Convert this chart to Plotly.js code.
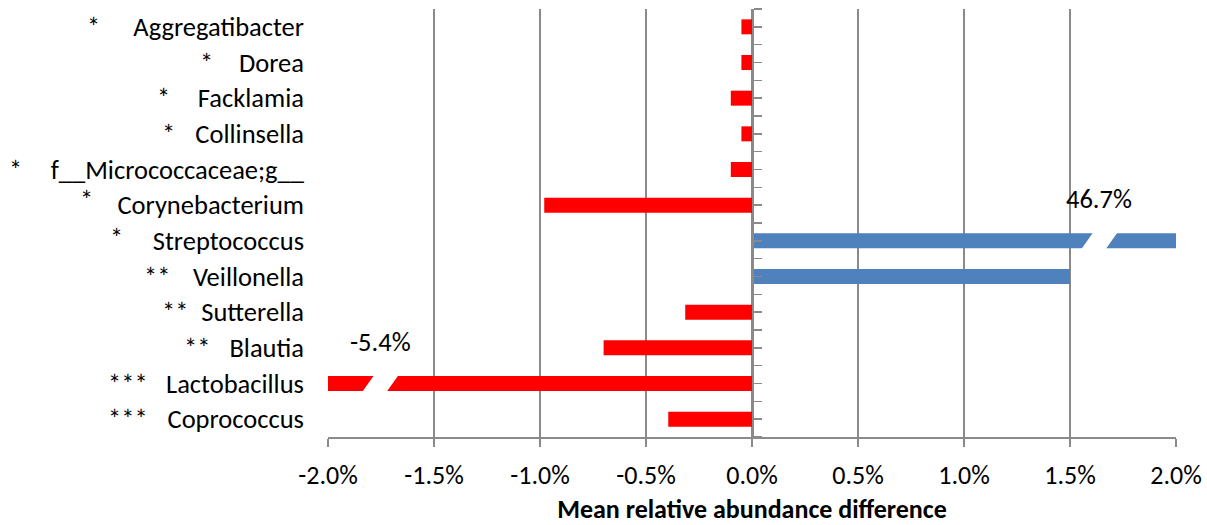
<!DOCTYPE html>
<html>
<head>
<meta charset="utf-8">
<script src="https://cdn.plot.ly/plotly-3.0.1.min.js"></script>
<style>
  html, body { margin: 0; padding: 0; background: #ffffff; }
  #chart { width: 1207px; height: 525px; }
</style>
</head>
<body>
<div id="chart"></div>
<script>
// Genera, listed top to bottom
const genera = [
  'Aggregatibacter', 'Dorea', 'Facklamia', 'Collinsella',
  'f__Micrococcaceae;g__', 'Corynebacterium', 'Streptococcus', 'Veillonella',
  'Sutterella', 'Blautia', 'Lactobacillus', 'Coprococcus'
];
// Significance markers for each genus
const significance = ['*', '*', '*', '*', '*', '*', '*', '**', '**', '**', '***', '***'];
// Mean relative abundance difference, in percent
const meanDiff = [-0.05, -0.05, -0.1, -0.05, -0.1, -0.98, 46.7, 1.5, -0.315, -0.7, -5.4, -0.395];
// X axis tick values, in percent
const xTicks = [-2.0, -1.5, -1.0, -0.5, 0.0, 0.5, 1.0, 1.5, 2.0];

const FONT = 'Carlito, Lato, sans-serif';
const FS = 26.5;
const GRID = '#8a8a8a';
const POS = '#4f81bd';
const NEG = '#ff0000';
const X_MIN = -2, X_MAX = 2;
const BAR_W = 0.42;

// Bar colour follows the sign of the difference
const barColors = meanDiff.map(v => (v >= 0 ? POS : NEG));

const bars = {
  type: 'bar',
  orientation: 'h',
  x: meanDiff,
  y: genera,
  width: BAR_W,
  marker: { color: barColors, line: { width: 0 } },
  hoverinfo: 'x+y',
  showlegend: false
};

// Empty trace so the centre axis (ticks along x = 0) is drawn
const centreAxisTrace = {
  type: 'scatter', x: [], y: [], yaxis: 'y2',
  hoverinfo: 'skip', showlegend: false
};

// Off-scale bars get a slanted break and their true value written above it
const breakAt = { 6: 1.639, 10: -1.753 };
const BREAK_W = 0.115;   // break width along x
const BREAK_SKEW = 0.05; // horizontal slant across the bar height

const shapes = [];
const annotations = [];

Object.keys(breakAt).forEach(k => {
  const i = Number(k);
  const xc = breakAt[k];
  const h = BAR_W / 2 + 0.05;
  const s = BREAK_SKEW * (h / (BAR_W / 2)) / 2;
  const yt = i - h, yb = i + h;
  const path = 'M ' + (xc - BREAK_W / 2 + s) + ' ' + yt +
               ' L ' + (xc + BREAK_W / 2 + s) + ' ' + yt +
               ' L ' + (xc + BREAK_W / 2 - s) + ' ' + yb +
               ' L ' + (xc - BREAK_W / 2 - s) + ' ' + yb + ' Z';
  shapes.push({
    type: 'path', xref: 'x', yref: 'y2', path: path,
    fillcolor: '#ffffff', line: { width: 0 }, layer: 'above'
  });
  annotations.push({
    xref: 'x', yref: 'y2', x: xc, y: i, yshift: 42,
    text: meanDiff[i].toFixed(1) + '%',
    showarrow: false, xanchor: 'center', yanchor: 'middle',
    font: { family: FONT, size: FS, color: '#000000' }
  });
});

// Significance stars to the left of each genus name
const starRight = [102, 215, 172, 177, 24, 95, 125, 172, 190, 212, 150, 150];
const starLift = [0, 0, 0, 0, 0, 5, 3, 0, 0, 0, 0, 0];
const PLOT_LEFT = 328;
significance.forEach((s, i) => {
  annotations.push({
    xref: 'paper', yref: 'y2', x: 0, y: i,
    xshift: starRight[i] - PLOT_LEFT, yshift: starLift[i],
    xanchor: 'right', yanchor: 'middle',
    text: s, showarrow: false,
    font: { family: FONT, size: FS, color: '#000000' }
  });
});

const layout = {
  width: 1207,
  height: 525,
  margin: { l: 328, r: 31, t: 9, b: 88, pad: 0 },
  paper_bgcolor: '#ffffff',
  plot_bgcolor: '#ffffff',
  font: { family: FONT, size: FS, color: '#000000' },
  xaxis: {
    range: [X_MIN, X_MAX],
    tickmode: 'array',
    tickvals: xTicks,
    ticktext: xTicks.map(v => v.toFixed(1) + '%'),
    showgrid: true, gridcolor: GRID, gridwidth: 1.5,
    zeroline: false,
    showline: true, linecolor: GRID, linewidth: 1.5,
    ticks: 'outside', ticklen: 8, tickwidth: 1.5, tickcolor: GRID,
    ticklabelstandoff: 6,
    tickfont: { family: FONT, size: 26, color: '#000000' },
    title: {
      text: '<b>Mean relative abundance difference</b>',
      font: { family: FONT, size: 26, color: '#000000' },
      standoff: 15
    },
    fixedrange: true
  },
  yaxis: {
    type: 'category',
    categoryorder: 'array',
    categoryarray: genera,
    range: [genera.length - 0.5, -0.5],
    showgrid: false, zeroline: false, showline: false,
    ticks: '',
    ticklabelstandoff: 23,
    tickfont: { family: FONT, size: FS, color: '#000000' },
    fixedrange: true
  },
  yaxis2: {
    overlaying: 'y',
    anchor: 'free',
    position: (0 - X_MIN) / (X_MAX - X_MIN),
    side: 'right',
    range: [genera.length - 0.5, -0.5],
    tickmode: 'linear', tick0: -0.5, dtick: 0.5,
    ticks: 'outside', ticklen: 8, tickwidth: 1.5, tickcolor: GRID,
    showticklabels: false,
    showgrid: false, zeroline: false,
    showline: true, linecolor: GRID, linewidth: 1.5,
    fixedrange: true
  },
  shapes: shapes,
  annotations: annotations
};

Plotly.newPlot('chart', [bars, centreAxisTrace], layout, { displayModeBar: false, staticPlot: true });
</script>
</body>
</html>
